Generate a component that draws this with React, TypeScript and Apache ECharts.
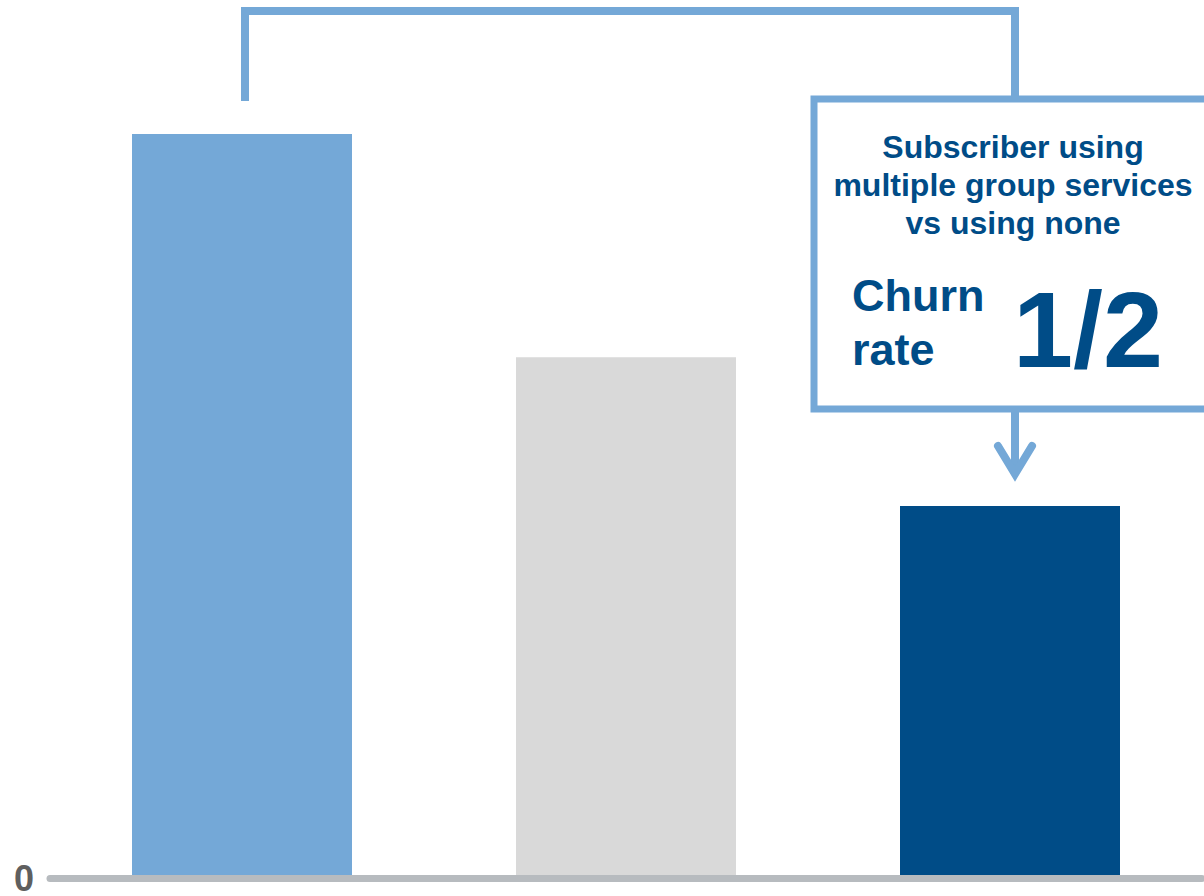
import { useEffect, useRef } from "react";
import * as echarts from "echarts";

// Churn index per subscriber segment (segment with no group services = 100)
const categories = ["No group services", "Some group services", "Multiple group services"];
const churnValues = [100, 70, 50];
const barColors = ["#74A8D7", "#D9D9D9", "#004C87"];
const yTickLabels = [0];

// Callout texts
const calloutLines = ["Subscriber using", "multiple group services", "vs using none"];
const churnLabel = ["Churn", "rate"];
const ratioLabel = "1/2";

const FONT = '"Liberation Sans", Arial, Helvetica, sans-serif';
const ACCENT = "#74A8D7";
const NAVY = "#004C87";

function textEl(text: string, x: number, y: number, size: number, align: string) {
  return {
    type: "text",
    x,
    y,
    z: 20,
    style: {
      text,
      fill: NAVY,
      fontSize: size,
      fontWeight: "bold",
      fontFamily: FONT,
      align,
      textAlign: align,
      verticalAlign: "middle",
      textVerticalAlign: "middle",
    },
  };
}

export default function App() {
  const ref = useRef<HTMLDivElement>(null);

  useEffect(() => {
    if (!ref.current) return;
    const chart = echarts.init(ref.current, undefined, { renderer: "svg" });

    chart.setOption({
      animation: false,
      backgroundColor: "#ffffff",
      grid: { left: 50, right: 2, top: 134, bottom: 15, containLabel: false },
      xAxis: {
        type: "category",
        data: categories,
        z: 10,
        axisLine: { show: true, lineStyle: { color: "#B7BBBF", width: 7 } },
        axisTick: { show: false },
        axisLabel: { show: false },
        splitLine: { show: false },
      },
      yAxis: {
        type: "value",
        min: 0,
        max: 100,
        interval: 100,
        axisLine: { show: false },
        axisTick: { show: false },
        splitLine: { show: false },
        axisLabel: {
          margin: 16,
          color: "#5F5F5F",
          fontSize: 36,
          lineHeight: 28,
          fontWeight: "bold",
          fontFamily: FONT,
          formatter: (v: number) => (yTickLabels.includes(v) ? String(v) : ""),
        },
      },
      series: [
        {
          type: "bar",
          barWidth: 220,
          data: churnValues.map((v, i) => ({ value: v, itemStyle: { color: barColors[i] } })),
          label: { show: false },
        },
      ],
    });

    // Bracket and callout anchored on the first and last bars
    const [x1, top1] = chart.convertToPixel({ seriesIndex: 0 }, [0, churnValues[0]]) as number[];
    const [x3, top3] = chart.convertToPixel({ seriesIndex: 0 }, [2, churnValues[2]]) as number[];

    const leftX = x1 + 3;
    const rightX = x3 + 5;
    const bracketTop = top1 - 123;
    const boxTop = top3 - 407;
    const boxBottom = top3 - 97;
    const boxLeft = x3 - 196;
    const tipY = top3 - 28;
    const textX = x3 + 3;

    chart.setOption({
      graphic: [
        {
          type: "polyline",
          z: 15,
          shape: {
            points: [
              [leftX, top1 - 33],
              [leftX, bracketTop],
              [rightX, bracketTop],
              [rightX, boxTop],
            ],
          },
          style: { stroke: ACCENT, lineWidth: 8, fill: null, lineJoin: "miter", lineCap: "butt" },
        },
        {
          type: "rect",
          z: 16,
          shape: { x: boxLeft, y: boxTop, width: 440, height: boxBottom - boxTop },
          style: { fill: "#ffffff", stroke: ACCENT, lineWidth: 7 },
        },
        {
          type: "line",
          z: 15,
          shape: { x1: rightX, y1: boxBottom, x2: rightX, y2: tipY - 4 },
          style: { stroke: ACCENT, lineWidth: 8, lineCap: "butt" },
        },
        {
          type: "polyline",
          z: 15,
          shape: {
            points: [
              [rightX - 17, tipY - 32],
              [rightX, tipY - 4],
              [rightX + 17, tipY - 32],
            ],
          },
          style: { stroke: ACCENT, lineWidth: 8, fill: null, lineJoin: "miter", lineCap: "round" },
        },
        textEl(calloutLines[0], textX, boxTop + 48, 32, "center"),
        textEl(calloutLines[1], textX, boxTop + 86, 32, "center"),
        textEl(calloutLines[2], textX, boxTop + 124, 32, "center"),
        textEl(churnLabel[0], boxLeft + 38, boxTop + 196, 45, "left"),
        textEl(churnLabel[1], boxLeft + 38, boxTop + 250, 45, "left"),
        textEl(ratioLabel, boxLeft + 199, boxTop + 230, 108, "left"),
      ],
    });

    return () => chart.dispose();
  }, []);

  return (
    <div
      ref={ref}
      style={{ position: "absolute", left: 0, top: 0, width: 1204, height: 896, background: "#fff" }}
    />
  );
}
